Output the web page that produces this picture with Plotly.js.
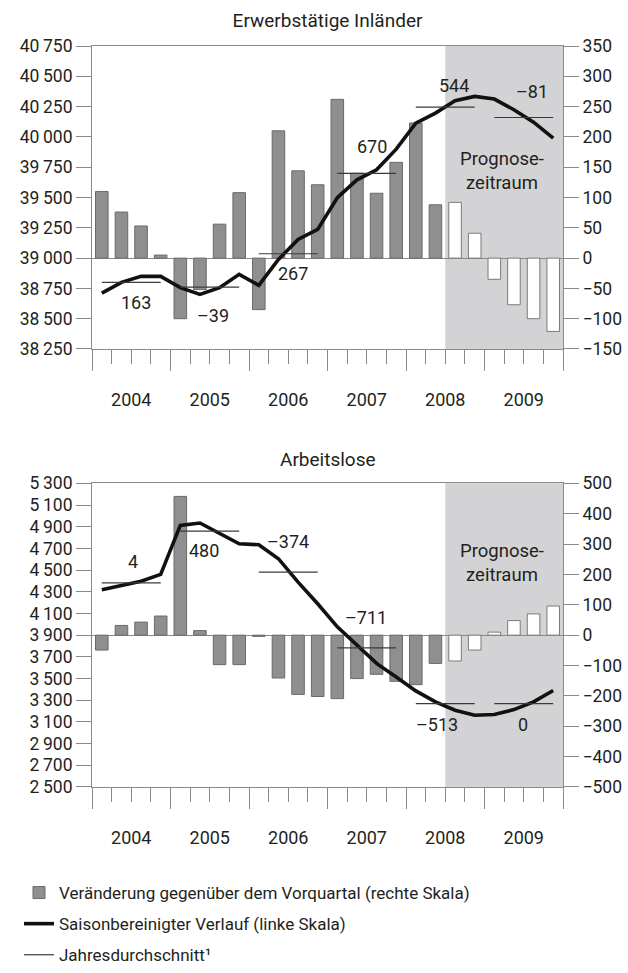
<!DOCTYPE html>
<html>
<head>
<meta charset="utf-8">
<script src="https://cdn.plot.ly/plotly-3.0.1.min.js"></script>
<style>html,body{margin:0;padding:0;background:#fff}</style>
</head>
<body>
<div id="chart" style="width:628px;height:973px"></div>
<script>
// ---------- data ----------
const years = [2004, 2005, 2006, 2007, 2008, 2009];
const forecastStart = 18; // first forecast quarter: 2008 Q3

// Erwerbstätige Inländer
const empChange = [110, 76, 53, 5, -100, -52, 56, 108, -85, 210, 144, 121, 262, 140, 107, 158, 223, 88, 92, 41, -35, -77, -100, -121];
const empLevel = [38711, 38800, 38849, 38849, 38756, 38700, 38756, 38866, 38775, 38989, 39154, 39237, 39498, 39646, 39729, 39899, 40114, 40196, 40298, 40334, 40312, 40224, 40122, 39990];
const empAvg = [38800, 38761, 39036, 39699, 40246, 40160];
const empAvgLabels = ['163', '–39', '267', '670', '544', '–81'];

// Arbeitslose
const unempChange = [-49, 32, 43, 63, 457, 15, -97, -97, -4, -141, -195, -202, -209, -143, -129, -152, -163, -93, -85, -49, 10, 48, 70, 96];
const unempLevel = [4319, 4359, 4398, 4460, 4912, 4934, 4836, 4743, 4734, 4605, 4389, 4190, 3977, 3808, 3640, 3515, 3386, 3285, 3208, 3162, 3168, 3214, 3285, 3390];
const unempAvg = [4383, 4860, 4482, 3783, 3269, 3269];
const unempAvgLabels = ['4', '480', '–374', '–711', '–513', '0'];

const titleEmp = 'Erwerbstätige Inländer';
const titleUnemp = 'Arbeitslose';
const legendNames = ['Veränderung gegenüber dem Vorquartal (rechte Skala)', 'Saisonbereinigter Verlauf (linke Skala)', 'Jahresdurchschnitt¹'];
const forecastText = 'Prognose-<br>zeitraum';

// ---------- styles / label placement ----------
const FONT = 'Roboto, "Open Sans", sans-serif';
const TXT = '#231f20';
const AXC = '#8a8a8a';
const BAR = '#8f8f92';
const BARLINE = '#6a6a6a';
const SHADE = '#d3d3d5';
const empLabelOffset = [[0.24, -20], [0.16, -28], [0.23, -20], [0.26, 27], [0.43, 22], [0.40, 26]];
const unempLabelOffset = [[0.09, 21], [-0.30, -19], [0.0, 31], [-0.05, 30], [-0.41, -21], [-0.05, -21]];

// ---------- derived ----------
const nQ = years.length * 4;
const qIdx = Array.from({length: nQ}, (_, i) => i);
const actIdx = qIdx.filter(i => i < forecastStart);
const fcIdx = qIdx.filter(i => i >= forecastStart);

function avgSegments(avg) {
  const xs = [], ys = [];
  avg.forEach((v, i) => { xs.push(4 * i, 4 * i + 3, null); ys.push(v, v, null); });
  return {xs, ys};
}

function chartTraces(change, level, avg, xa, yBar, yLine, showLeg) {
  const seg = avgSegments(avg);
  return [
    {type: 'bar', x: actIdx, y: actIdx.map(i => change[i]), xaxis: xa, yaxis: yBar, width: 0.64,
     marker: {color: BAR, line: {color: BARLINE, width: 1}},
     name: legendNames[0], legendgroup: 'g1', legendrank: 1, showlegend: showLeg},
    {type: 'bar', x: fcIdx, y: fcIdx.map(i => change[i]), xaxis: xa, yaxis: yBar, width: 0.64,
     marker: {color: '#ffffff', line: {color: '#7a7a7a', width: 1}},
     name: legendNames[0] + ' (Prognose)', legendgroup: 'g1', legendrank: 1, showlegend: false},
    {type: 'scatter', mode: 'lines', x: qIdx, y: level, xaxis: xa, yaxis: yLine,
     line: {color: '#111111', width: 3.6},
     name: legendNames[1], legendgroup: 'g2', legendrank: 2, showlegend: showLeg},
    {type: 'scatter', mode: 'lines', x: seg.xs, y: seg.ys, xaxis: xa, yaxis: yLine,
     line: {color: '#3a3a3a', width: 1.2}, connectgaps: false,
     name: legendNames[2], legendgroup: 'g3', legendrank: 3, showlegend: showLeg}
  ];
}

const data = [
  ...chartTraces(empChange, empLevel, empAvg, 'x', 'y', 'y2', true),
  ...chartTraces(unempChange, unempLevel, unempAvg, 'x2', 'y3', 'y4', false)
];

// x axis ticks: short ticks at quarter boundaries (labels at year centres), long ticks at year boundaries
const majorVals = [], majorText = [];
years.forEach((yr, i) => {
  [0.5, 1.5, 2.5].forEach(o => { majorVals.push(4 * i + o); majorText.push(o === 1.5 ? String(yr) : ''); });
});
const yearBounds = Array.from({length: years.length + 1}, (_, i) => 4 * i - 0.5);

const tickFont = {family: FONT, size: 17.5, color: TXT};
function xAxis(anchor) {
  return {
    anchor: anchor, domain: [0, 1], range: [-0.5, nQ - 0.5],
    tickmode: 'array', tickvals: majorVals, ticktext: majorText,
    ticks: 'outside', ticklen: 14, tickwidth: 1, tickcolor: AXC,
    minor: {tickmode: 'array', tickvals: yearBounds, ticks: 'outside', ticklen: 21, tickwidth: 1, tickcolor: AXC, showgrid: false},
    ticklabelstandoff: 20,
    showline: true, linecolor: AXC, linewidth: 1, mirror: true,
    showgrid: false, zeroline: false, tickfont: {family: FONT, size: 18, color: TXT}, fixedrange: true
  };
}
function barAxis(anchor, domain, range, dtick) {
  return {
    anchor: anchor, domain: domain, side: 'right', range: range, dtick: dtick, tick0: 0,
    ticks: 'outside', ticklen: 15, tickwidth: 1, tickcolor: AXC,
    showline: true, linecolor: AXC, linewidth: 1,
    zeroline: true, zerolinecolor: AXC, zerolinewidth: 1,
    showgrid: false, tickfont: tickFont, fixedrange: true
  };
}
function levelAxis(anchor, over, range, dtick) {
  return {
    anchor: anchor, overlaying: over, side: 'left', range: range, dtick: dtick, tick0: range[0],
    ticks: 'outside', ticklen: 15, tickwidth: 1, tickcolor: AXC,
    showline: true, linecolor: AXC, linewidth: 1, separatethousands: true, tickformat: ',d',
    zeroline: false, showgrid: false, tickfont: tickFont, fixedrange: true
  };
}

function labelAnnots(avg, labels, offs, xref, yref) {
  return labels.map((t, i) => ({
    xref: xref, yref: yref, x: 4 * i + 1.5 + offs[i][0], y: avg[i], yshift: offs[i][1],
    text: t, showarrow: false, font: {family: FONT, size: 18, color: TXT}, xanchor: 'center', yanchor: 'middle'
  }));
}

const annotations = [
  ...labelAnnots(empAvg, empAvgLabels, empLabelOffset, 'x', 'y2'),
  ...labelAnnots(unempAvg, unempAvgLabels, unempLabelOffset, 'x2', 'y4'),
  {xref: 'x', yref: 'y domain', x: 20.4, y: 0.586, text: forecastText, showarrow: false,
   font: {family: FONT, size: 18.5, color: TXT}, align: 'center'},
  {xref: 'x2', yref: 'y3 domain', x: 20.4, y: 0.819, text: forecastText, showarrow: false,
   font: {family: FONT, size: 18.5, color: TXT}, align: 'center'},
  {xref: 'paper', yref: 'paper', x: 0.5, y: 0.4413, text: titleUnemp, showarrow: false,
   font: {family: FONT, size: 19, color: TXT}, yanchor: 'middle'}
];

const shapes = [
  {type: 'rect', layer: 'below', xref: 'x', yref: 'y domain', x0: forecastStart - 0.5, x1: nQ - 0.5, y0: 0, y1: 1,
   fillcolor: SHADE, line: {width: 0}},
  {type: 'rect', layer: 'below', xref: 'x2', yref: 'y3 domain', x0: forecastStart - 0.5, x1: nQ - 0.5, y0: 0, y1: 1,
   fillcolor: SHADE, line: {width: 0}}
];

const layout = {
  width: 628, height: 973,
  margin: {l: 92, r: 65, t: 46, b: 186, pad: 0, autoexpand: false},
  paper_bgcolor: '#ffffff', plot_bgcolor: '#ffffff',
  font: {family: FONT, size: 17, color: TXT},
  separators: '.\u2009',
  title: {text: titleEmp, x: 0.5, xref: 'paper', y: 1 - 20 / 973, yref: 'container', yanchor: 'middle',
          font: {family: FONT, size: 19, color: TXT}},
  barmode: 'overlay',
  showlegend: true,
  legend: {x: -0.155, xanchor: 'left', xref: 'paper', y: 0, yref: 'container', yanchor: 'bottom', orientation: 'v',
           font: {family: FONT, size: 17, color: TXT}, traceorder: 'grouped', tracegroupgap: 6,
           bgcolor: 'rgba(0,0,0,0)', itemclick: false, itemdoubleclick: false},
  xaxis: xAxis('y'),
  yaxis: barAxis('x', [0.5911, 1], [-150, 350], 50),
  yaxis2: levelAxis('x', 'y', [38250, 40750], 250),
  xaxis2: xAxis('y3'),
  yaxis3: barAxis('x2', [0, 0.4098], [-500, 500], 100),
  yaxis4: levelAxis('x2', 'y3', [2500, 5300], 200),
  annotations: annotations,
  shapes: shapes,
  hovermode: false
};

Plotly.newPlot('chart', data, layout, {staticPlot: true, displayModeBar: false});
</script>
</body>
</html>
